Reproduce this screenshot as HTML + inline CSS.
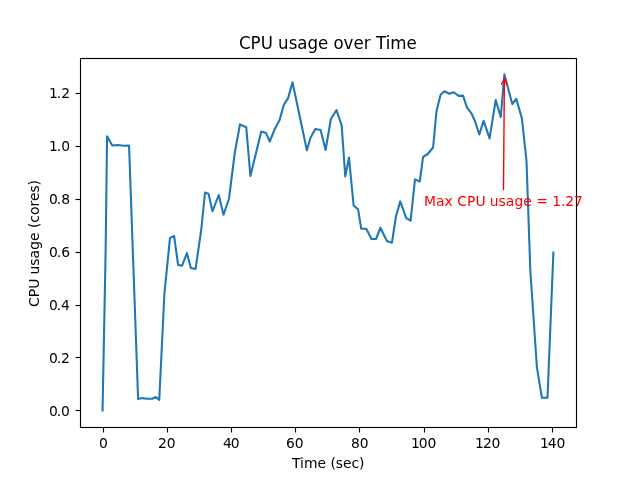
<!DOCTYPE html>
<html lang="en">
<head>
<meta charset="utf-8">
<title>CPU usage over Time</title>
<style>
html,body{margin:0;padding:0;background:#ffffff;}
body{width:640px;height:480px;overflow:hidden;}
svg{display:block;}
text{font-family:"DejaVu Sans","Liberation Sans",sans-serif;fill:#000000;}
.t10{font-size:13.889px;}
.sp{stroke:#000000;stroke-width:1.111;fill:none;}
</style>
</head>
<body>
<svg width="640" height="480" viewBox="0 0 640 480" style="will-change:transform;filter:grayscale(0)">
<rect x="0" y="0" width="640" height="480" fill="#ffffff"/>
<defs><clipPath id="axclip"><rect x="80" y="57.6" width="496" height="369.6"/></clipPath></defs>
<g class="sp">
<line x1="103.5" y1="427.5" x2="103.5" y2="432.5"/>
<line x1="167.5" y1="427.5" x2="167.5" y2="432.5"/>
<line x1="231.5" y1="427.5" x2="231.5" y2="432.5"/>
<line x1="295.5" y1="427.5" x2="295.5" y2="432.5"/>
<line x1="359.5" y1="427.5" x2="359.5" y2="432.5"/>
<line x1="424.5" y1="427.5" x2="424.5" y2="432.5"/>
<line x1="488.5" y1="427.5" x2="488.5" y2="432.5"/>
<line x1="552.5" y1="427.5" x2="552.5" y2="432.5"/>
<line x1="75.5" y1="410.5" x2="80.5" y2="410.5"/>
<line x1="75.5" y1="357.5" x2="80.5" y2="357.5"/>
<line x1="75.5" y1="305.5" x2="80.5" y2="305.5"/>
<line x1="75.5" y1="252.5" x2="80.5" y2="252.5"/>
<line x1="75.5" y1="199.5" x2="80.5" y2="199.5"/>
<line x1="75.5" y1="146.5" x2="80.5" y2="146.5"/>
<line x1="75.5" y1="93.5" x2="80.5" y2="93.5"/>
</g>
<g class="t10">
<text x="98.89" y="448">0</text>
<text x="157.9 166.71" y="448">20</text>
<text x="223.09 230.65" y="448">40</text>
<text x="286.02 294.83" y="448">60</text>
<text x="350.96 359.77" y="448">80</text>
<text x="410.99 418.8 427.38" y="448">100</text>
<text x="474.92 482.98 491.56" y="448">120</text>
<text x="540.11 547.67 556.5" y="448">140</text>
<text x="48.95 56.76 60.94" y="416">0.0</text>
<text x="48.95 56.76 60.94" y="363">0.2</text>
<text x="48.95 56.76 60.94" y="310">0.4</text>
<text x="48.95 56.76 61.19" y="257">0.6</text>
<text x="48.95 56.76 61.19" y="204">0.8</text>
<text x="48.95 56.76 61.19" y="151">1.0</text>
<text x="48.95 56.76 61.19" y="98">1.2</text>
<text x="291.95 300 304.09 317.61 325.91 330.56 335.72 342.95 351.48 359.12" y="468">Time (sec)</text>
<text x="-63.51 -53.82 -45.46 -35.3 -31.15 -22.35 -15.12 -6.37 2.45 10.98 15.38 20.55 28.43 36.91 42.32 50.85 57.84" y="0" transform="translate(38.5,243.4) rotate(-90)">CPU usage (cores)</text>
</g>
<polyline clip-path="url(#axclip)" points="102.55,410.4 105.65,250 107.06,136.2 112.25,145.5 118,145.06 123.6,145.7 129.06,145.5 138.1,398.9 141.9,398.1 146.9,398.75 152.2,398.75 155.75,397 159.25,399.9 164.4,293.75 170,237.9 174.1,236 178.1,265 182.1,265.6 186.9,253.1 190.9,267.9 195.6,268.9 201.4,228.5 205,192.5 208.5,193.75 212.5,211.25 218.75,195 223.5,214.75 229,198.75 234.8,152.5 240,124.4 246.25,127.25 250.4,176 261.25,131.5 266,133.1 269.75,141.5 275,128.5 279.4,120.6 283.75,105 288.2,97.9 292.5,82.2 306.9,150.25 310.6,137.5 315.4,129 320.6,130 325.6,150 330.9,119 336.5,110 341.7,125.6 345.25,176.5 349,157.5 353.6,205.5 358.1,209.4 361.25,228.75 366.25,228.75 371.5,239 376,239 380.4,227.75 386.9,241 391.9,242.75 396,216.25 400.25,201.4 406.25,218.1 410.6,220.6 415,179.4 419.75,181.5 423.1,156.9 427.75,154 433.1,147.5 436.5,111.25 440.6,94.75 444.4,91.25 449.4,93.75 453.75,92.25 458.75,95.9 463.1,95.6 466.9,107.4 471.4,113.3 475,121.25 479.3,134.5 483.55,120.7 489.6,138.4 495.7,100 500.75,117.1 504.4,74.4 512.3,104.1 516.25,98.75 521.9,118.4 526.5,161 530.3,270 536.9,367.3 541.9,397.8 547.5,397.8 553.4,252.5" fill="none" stroke="#1f77b4" stroke-width="2.083" stroke-linejoin="round" stroke-linecap="square"/>
<rect class="sp" x="80.5" y="58.5" width="496" height="369"/>
<g fill="none" stroke="#ff0000" stroke-width="1.389" stroke-linecap="round" stroke-linejoin="miter">
<path d="M503.5 189.65 L504.37 78.73"/>
<path d="M501.55 84.26 L504.37 78.73 L507.1 84.3"/>
</g>
<text class="t10" x="424.11 436.08 444.58 452.78 457.2 466.89 475.5 485.41 489.81 498.61 505.84 514.59 523.16 531.69 536.34 547.72 552.14 560.97 565.13 573.95" y="206" style="fill:#ff0000">Max CPU usage = 1.27</text>
<text x="-92.06 -80.24 -69.57 -57.17 -51.68 -40.48 -31.72 -21.14 -10.16 0.47 5.96 16.28 26.76 37.39 44.5 49.99 60.27 64.82 81.66" y="0" style="font-size:17.3px" transform="translate(327.75,49) scale(0.9634,1)">CPU usage over Time</text>
</svg>
</body>
</html>
